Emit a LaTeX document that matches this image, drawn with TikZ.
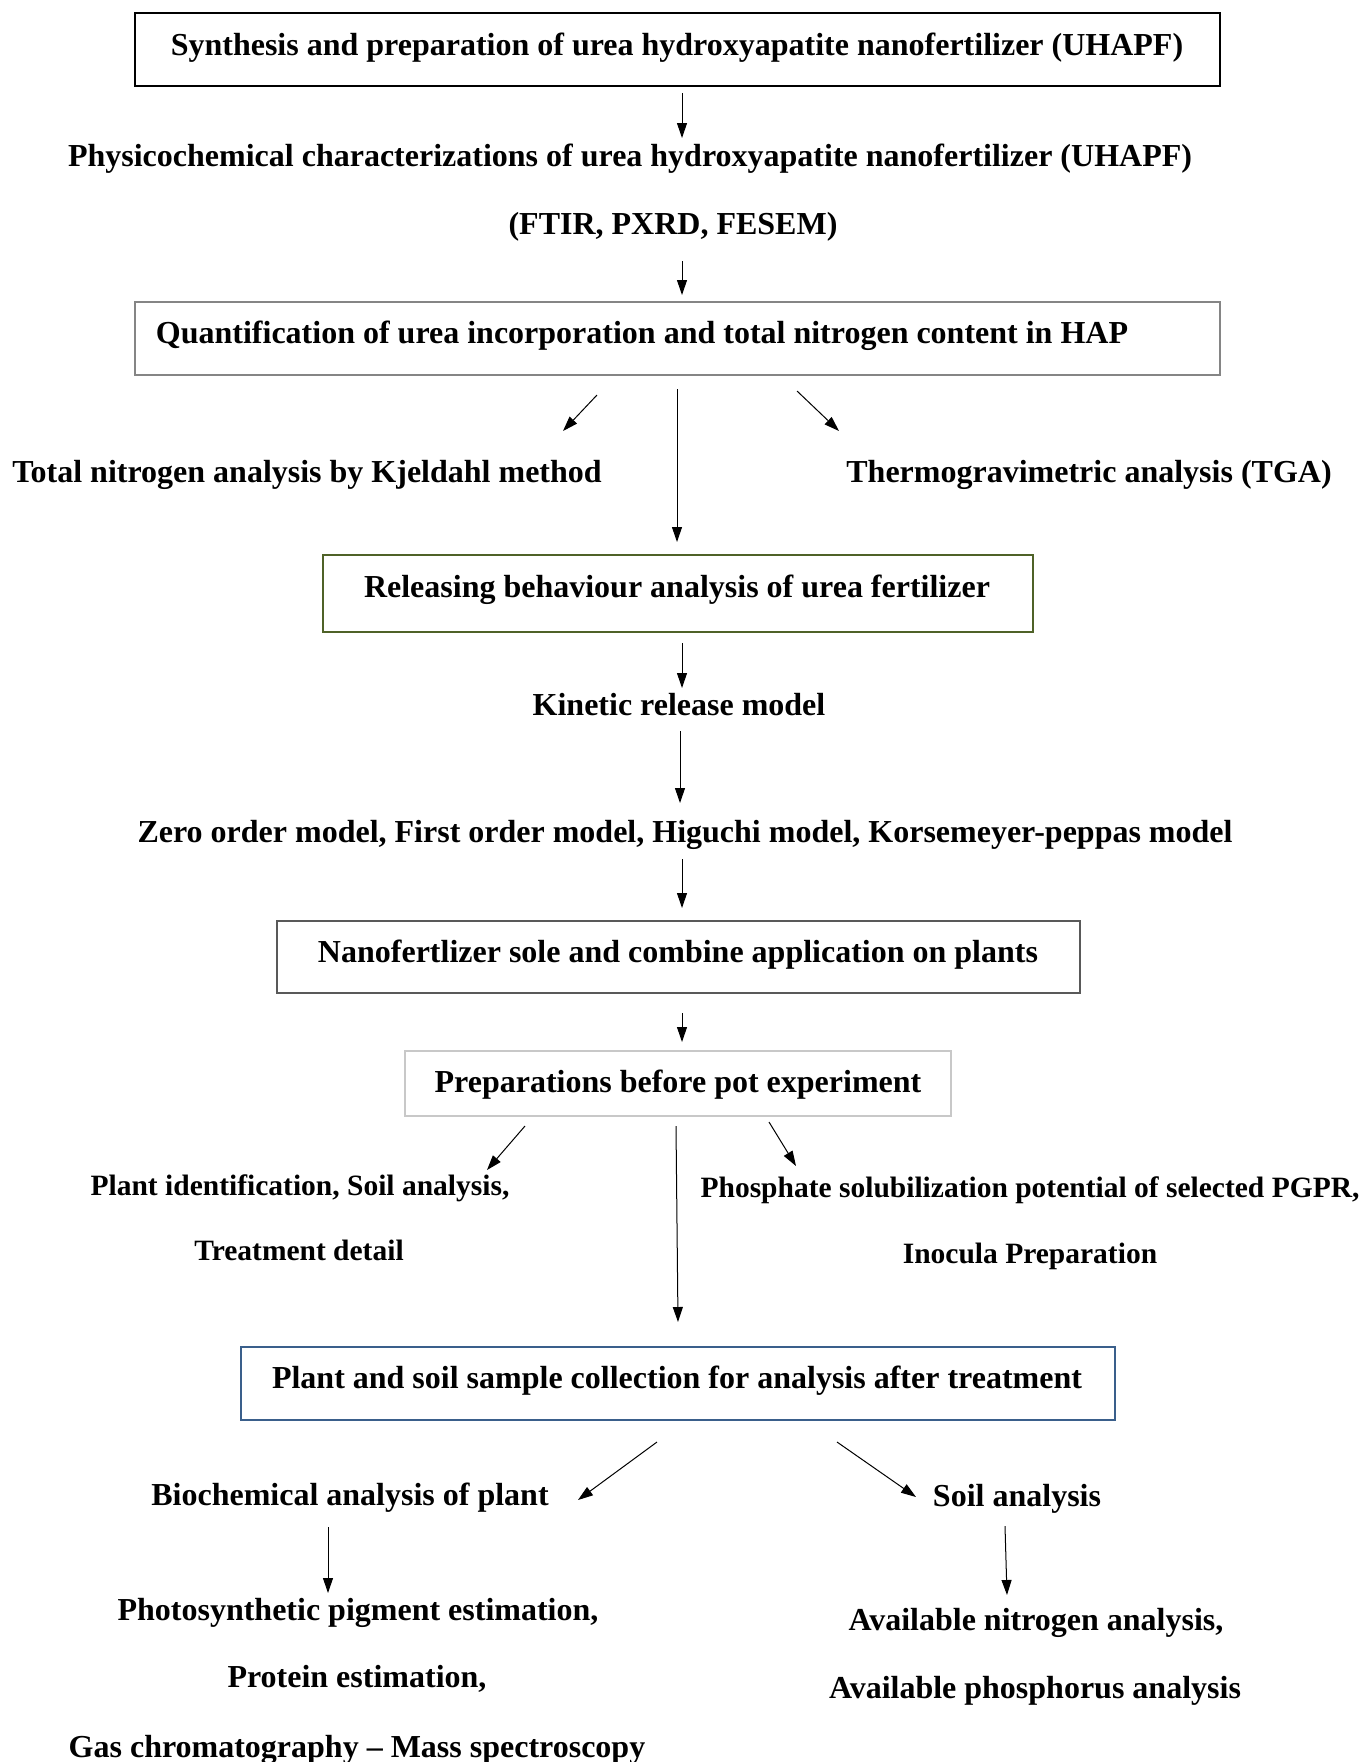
\documentclass[tikz,border=0pt]{standalone}
\usepackage{fontspec}
\setmainfont{Liberation Serif}
\usetikzlibrary{arrows.meta}
\definecolor{bxgray}{HTML}{858585}
\definecolor{bxgreen}{HTML}{4F6228}
\definecolor{bxdark}{HTML}{595959}
\definecolor{bxlight}{HTML}{C8C8C8}
\definecolor{bxblue}{HTML}{3A5F8B}
\begin{document}
\begin{tikzpicture}[x=1pt,y=-1pt,
  txt/.style={font=\bfseries\fontsize{32}{38}\selectfont, anchor=base, inner sep=0pt},
  txts/.style={font=\bfseries\fontsize{29.5}{35}\selectfont, anchor=base, inner sep=0pt},
  box/.style={draw, line width=2pt, rectangle, inner sep=0pt},
  arr/.style={line width=1pt, -{Triangle[length=15pt,width=10pt]}}]
\useasboundingbox (0,0) rectangle (1362,1762);

% boxes
\node[box, draw=black,   minimum width=1085pt, minimum height=73pt] (b1) at (677.5,49.5) {};
\node[box, draw=bxgray,  minimum width=1085pt, minimum height=73pt] (b2) at (677.5,338.5) {};
\node[box, draw=bxgreen, minimum width=710pt,  minimum height=77pt] (b3) at (678,593.5) {};
\node[box, draw=bxdark,  minimum width=803pt,  minimum height=72pt] (b4) at (678.5,957) {};
\node[box, draw=bxlight, minimum width=546pt,  minimum height=65pt] (b5) at (678,1083.5) {};
\node[box, draw=bxblue,  minimum width=874pt,  minimum height=73pt] (b6) at (678,1383.5) {};

% texts
\node[txt] (t1) at (677,55) {Synthesis and preparation of urea hydroxyapatite nanofertilizer (UHAPF)};
\node[txt] (t2) at (630,166) {Physicochemical characterizations of urea hydroxyapatite nanofertilizer (UHAPF)};
\node[txt] (t3) at (673,234) {(FTIR, PXRD, FESEM)};
\node[txt] (t4) at (642,343) {Quantification of urea incorporation and total nitrogen content in HAP};
\node[txt] (t5) at (307,482) {Total nitrogen analysis by Kjeldahl method};
\node[txt] (t6) at (1089,482) {Thermogravimetric analysis (TGA)};
\node[txt] (t7) at (677,597) {Releasing behaviour analysis of urea fertilizer};
\node[txt] (t8) at (679,715) {Kinetic release model};
\node[txt] (t9) at (685,842) {Zero order model, First order model, Higuchi model, Korsemeyer-peppas model};
\node[txt] (t10) at (678,962) {Nanofertlizer sole and combine application on plants};
\node[txt] (t11) at (678,1092) {Preparations before pot experiment};
\node[txts] (t12) at (300,1195) {Plant identification, Soil analysis,};
\node[txts] (t13) at (299,1260) {Treatment detail};
\node[txts] (t14) at (1030,1197) {Phosphate solubilization potential of selected PGPR,};
\node[txts] (t15) at (1030,1263) {Inocula Preparation};
\node[txt] (t16) at (677,1388) {Plant and soil sample collection for analysis after treatment};
\node[txt] (t17) at (350,1505) {Biochemical analysis of plant};
\node[txt] (t18) at (1017,1506) {Soil analysis};
\node[txt] (t19) at (358,1620) {Photosynthetic pigment estimation,};
\node[txt] (t20) at (357,1687) {Protein estimation,};
\node[txt] (t21) at (357,1757) {Gas chromatography – Mass spectroscopy};
\node[txt] (t22) at (1036,1630) {Available nitrogen analysis,};
\node[txt] (t23) at (1035,1698) {Available phosphorus analysis};

% arrow end points
\coordinate (a1s) at (682,93);    \coordinate (a1e) at (682,138);
\coordinate (a2s) at (682,261);   \coordinate (a2e) at (682,295);
\coordinate (a3ls) at (597,395);  \coordinate (a3le) at (563,431);
\coordinate (a3cs) at (677,389);  \coordinate (a3ce) at (677,542);
\coordinate (a3rs) at (797,391);  \coordinate (a3re) at (839,431);
\coordinate (a4s) at (682,643);   \coordinate (a4e) at (682,688);
\coordinate (a5s) at (680,731);   \coordinate (a5e) at (680,803);
\coordinate (a6s) at (682,859);   \coordinate (a6e) at (682,908);
\coordinate (a7s) at (682,1013);  \coordinate (a7e) at (682,1042);
\coordinate (a8ls) at (525,1126); \coordinate (a8le) at (487,1170);
\coordinate (a8cs) at (676,1126); \coordinate (a8ce) at (678,1322);
\coordinate (a8rs) at (769,1122); \coordinate (a8re) at (796,1166);
\coordinate (a9ls) at (657,1442); \coordinate (a9le) at (578,1500);
\coordinate (a9rs) at (837,1442); \coordinate (a9re) at (916,1497);
\coordinate (a10ls) at (328,1527); \coordinate (a10le) at (328,1593);
\coordinate (a10rs) at (1005,1526); \coordinate (a10re) at (1007,1595);

% arrows
\draw[arr] (a1s) -- (a1e);
\draw[arr] (a2s) -- (a2e);
\draw[arr] (a3ls) -- (a3le);
\draw[arr] (a3cs) -- (a3ce);
\draw[arr] (a3rs) -- (a3re);
\draw[arr] (a4s) -- (a4e);
\draw[arr] (a5s) -- (a5e);
\draw[arr] (a6s) -- (a6e);
\draw[arr] (a7s) -- (a7e);
\draw[arr] (a8ls) -- (a8le);
\draw[arr] (a8cs) -- (a8ce);
\draw[arr] (a8rs) -- (a8re);
\draw[arr] (a9ls) -- (a9le);
\draw[arr] (a9rs) -- (a9re);
\draw[arr] (a10ls) -- (a10le);
\draw[arr] (a10rs) -- (a10re);
\end{tikzpicture}
\end{document}
